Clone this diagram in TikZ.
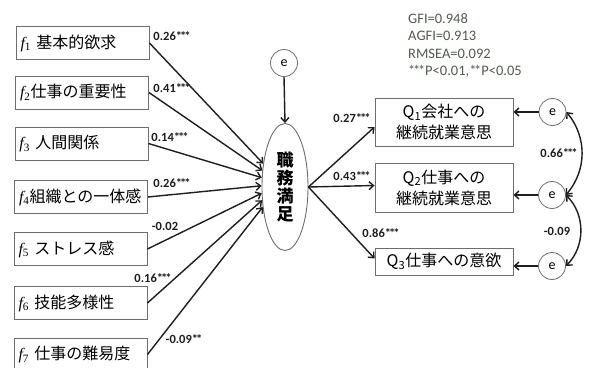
\documentclass[tikz,border=0pt]{standalone}
\usepackage{fontspec}
\setmainfont{Carlito}
\newfontfamily\jp{Noto Sans CJK JP}
\newfontfamily\tms{Liberation Serif}
\usetikzlibrary{arrows.meta,shapes.geometric}
\newcommand\fl[1]{{\tms\itshape f}{\tms\textsubscript{#1}}}
\newcommand\stthree{*\kern-.16em*\kern-.16em*}
\newcommand\sttwo{*\kern-.16em*}
\definecolor{boxgray}{HTML}{6E6E6E}
\definecolor{linec}{HTML}{1E1E1E}
\definecolor{statc}{HTML}{525C52}
\begin{document}
\begin{tikzpicture}[x=1pt,y=-1pt,
  fbox/.style={draw=boxgray, line width=0.9pt, fill=white, minimum height=33pt,
    text width=124pt, inner xsep=4.5pt, align=left, font=\jp\fontsize{16}{18}\selectfont},
  qbox/.style={draw=boxgray, line width=0.9pt, fill=white, minimum width=138pt,
    align=center, font=\jp\fontsize{16}{21}\selectfont},
  errc/.style={circle, draw=boxgray, line width=0.8pt, fill=white, minimum size=27pt,
    inner sep=0pt, font=\fontsize{14}{16}\selectfont},
  arr/.style={draw=linec, line width=1.4pt, -{Straight Barb[length=4.5pt,width=8pt]}},
  darr/.style={draw=linec, line width=1.4pt, {Straight Barb[length=4.5pt,width=8pt]}-{Straight Barb[length=4.5pt,width=8pt]}},
  lab/.style={font=\bfseries\fontsize{12.5}{14}\selectfont, text=linec, inner sep=0pt},
  stat/.style={anchor=base west, inner sep=0pt, text=statc, font=\fontsize{14.5}{17}\selectfont}]
\useasboundingbox[fill=white] (0,0) rectangle (591,367);

% left boxes
\node[fbox] (f1) at (82.5,43)  {\fl{1} 基本的欲求};
\node[fbox] (f2) at (82,92.5)  {\fl{2}仕事の重要性};
\node[fbox] (f3) at (81.5,143.5) {\fl{3} 人間関係};
\node[fbox] (f4) at (81,197)   {\fl{4}組織との一体感};
\node[fbox] (f5) at (80.5,249) {\fl{5} ストレス感};
\node[fbox] (f6) at (80.5,303) {\fl{6} 技能多様性};
\node[fbox] (f7) at (80.5,354.5) {\fl{7} 仕事の難易度};

% central ellipse and its error
\node[ellipse, draw=boxgray, line width=0.9pt, fill=white, minimum width=46pt,
  minimum height=127pt, inner sep=0pt, align=center,
  font=\jp\bfseries\fontsize{17}{18}\selectfont] (ell) at (285,187) {職\\務\\満\\足};
\node[errc] (e0) at (284,63) {e};
\draw[arr] (e0.south) -- (ell.north);

% paths into ellipse
\draw[arr] (f1.east) -- (ell.133);
\draw[arr] (f2.east) -- (ell.144);
\draw[arr] (f3.east) -- (ell.158);
\draw[arr] (f4.east) -- (ell.177);
\draw[arr] (f5.east) -- (ell.195);
\draw[arr] (f6.east) -- (ell.210);
\draw[arr] (f7.east) -- (ell.222);

\node[lab] (l1) at (172,36)  {0.26\stthree};
\node[lab] (l2) at (172,88)  {0.41\stthree};
\node[lab] (l3) at (170,137) {0.14\stthree};
\node[lab] (l4) at (172,183) {0.26\stthree};
\node[lab] (l5) at (165,226) {-0.02};
\node[lab] (l6) at (153,278) {0.16\stthree};
\node[lab] (l7) at (184,339) {-0.09\sttwo};

% right boxes
\node[qbox, minimum height=48pt] (Q1) at (444,122) {Q\textsubscript{1}会社への\\継続就業意思};
\node[qbox, minimum height=49pt] (Q2) at (444,187.5) {Q\textsubscript{2}仕事への\\継続就業意思};
\node[qbox, minimum height=27pt] (Q3) at (444,261.5) {Q\textsubscript{3}仕事への意欲};

\draw[arr] (ell.east) -- ([yshift=-5pt]Q1.west);
\draw[arr] (ell.east) -- ([yshift=2pt]Q2.west);
\draw[arr] (ell.east) -- ([yshift=3pt]Q3.west);

\node[lab] (r1) at (352,118) {0.27\stthree};
\node[lab] (r2) at (352,176) {0.43\stthree};
\node[lab] (r3) at (381,233) {0.86\stthree};

% errors of Q
\node[errc] (e1) at (552.5,112) {e};
\node[errc] (e2) at (552,195) {e};
\node[errc] (e3) at (552,266) {e};
\draw[arr] (e1.west) -- (e1.west -| Q1.east);
\draw[arr] (e2.west) -- (e2.west -| Q2.east);
\draw[arr] (e3.west) -- (e3.west -| Q3.east);

\draw[darr] (e1.east) to[bend left=40] (e2.east);
\draw[darr] (e2.east) to[bend left=45] (e3.east);
\node[lab] (c1) at (559,153) {0.66\stthree};
\node[lab] (c2) at (557,231) {-0.09};

% fit statistics
\node[stat] (s1) at (408,23) {GFI=0.948};
\node[stat] (s2) at (408,40.5) {AGFI=0.913};
\node[stat] (s3) at (408,58) {RMSEA=0.092};
\node[stat] (s4) at (408,75.5) {\stthree P<0.01,\sttwo P<0.05};
\end{tikzpicture}
\end{document}
